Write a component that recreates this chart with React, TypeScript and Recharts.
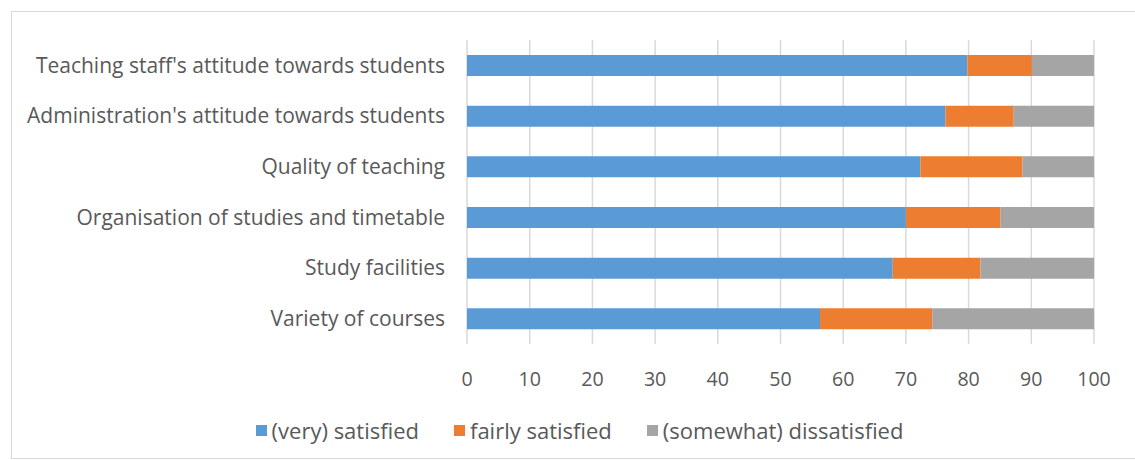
import { BarChart, Bar, XAxis, YAxis, CartesianGrid, Legend } from 'recharts';

// categories, top to bottom as drawn
const categories = [
  "Teaching staff's attitude towards students",
  "Administration's attitude towards students",
  'Quality of teaching',
  'Organisation of studies and timetable',
  'Study facilities',
  'Variety of courses',
];

const verySatisfied = [79.8, 76.3, 72.3, 70.0, 67.9, 56.3];
const fairlySatisfied = [10.3, 10.9, 16.3, 15.1, 14.0, 17.9];
const dissatisfied = [9.9, 12.8, 11.4, 14.9, 18.1, 25.8];

const xTicks = [0, 10, 20, 30, 40, 50, 60, 70, 80, 90, 100];

const series = [
  { key: 'very', label: '(very) satisfied', color: '#5b9bd5' },
  { key: 'fairly', label: 'fairly satisfied', color: '#ed7d31' },
  { key: 'dis', label: '(somewhat) dissatisfied', color: '#a5a5a5' },
];

const data = categories.map((name, i) => ({
  name,
  very: verySatisfied[i],
  fairly: fairlySatisfied[i],
  dis: dissatisfied[i],
}));

const FONT = '"Open Sans", sans-serif';
const TEXT = '#595959';

// keep legend in series order (recharts sorts by name otherwise)
const LegendRow = () => (
  <div
    style={{
      display: 'flex',
      justifyContent: 'center',
      alignItems: 'center',
      height: 30,
      paddingLeft: 65,
      fontFamily: FONT,
      fontSize: 22,
      color: TEXT,
    }}
  >
    {series.map((s, i) => (
      <div key={s.key} style={{ display: 'flex', alignItems: 'center', marginRight: i < series.length - 1 ? 35 : 0 }}>
        <span style={{ width: 11, height: 11, background: s.color, marginRight: 5, display: 'inline-block' }} />
        <span>{s.label}</span>
      </div>
    ))}
  </div>
);

const App = () => {
  return (
    <div style={{ position: 'absolute', left: 0, top: 0, width: 1135, height: 460, fontFamily: FONT }}>
      <div
        style={{
          position: 'absolute',
          left: 11,
          top: 11,
          width: 1130,
          height: 446,
          border: '1px solid #d9d9d9',
        }}
      />
      <BarChart
        width={1135}
        height={460}
        data={data}
        layout="vertical"
        margin={{ top: 40, right: 41, left: 0, bottom: 15 }}
      >
        <CartesianGrid horizontal={false} stroke="#d9d9d9" strokeWidth={1.5} />
        <XAxis
          type="number"
          domain={[0, 100]}
          ticks={xTicks}
          axisLine={false}
          tickLine={false}
          height={71}
          tickMargin={22}
          tick={{ fill: TEXT, fontSize: 19.6, fontFamily: FONT }}
        />
        <YAxis
          type="category"
          dataKey="name"
          width={467}
          axisLine={false}
          tickLine={false}
          tickMargin={16}
          tick={{ fill: TEXT, fontSize: 21, fontFamily: FONT }}
        />
        <Legend verticalAlign="bottom" content={() => <LegendRow />} />
        {series.map((s) => (
          <Bar
            key={s.key}
            dataKey={s.key}
            name={s.label}
            stackId="a"
            fill={s.color}
            barSize={21}
            isAnimationActive={false}
          />
        ))}
      </BarChart>
    </div>
  );
};

export default App;
